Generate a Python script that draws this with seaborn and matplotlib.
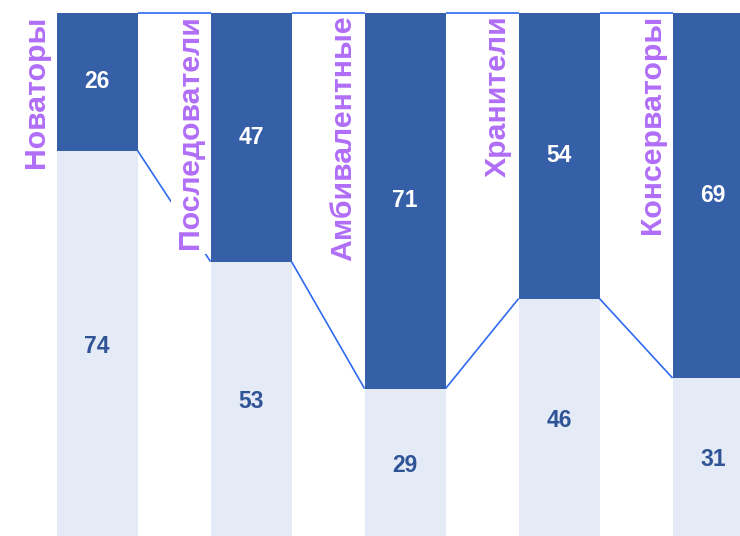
import matplotlib
matplotlib.use("Agg")
import matplotlib.pyplot as plt
import seaborn as sns
import pandas as pd

categories = ["Новаторы", "Последователи", "Амбивалентные", "Хранители", "Консерваторы"]
top_values = [26, 47, 71, 54, 69]      # dark segment (top)
bottom_values = [74, 53, 29, 46, 31]   # light segment (bottom)

DARK = "#3560A8"
LIGHT = "#E4EAF6"
LINE = "#2F6AF0"
PURPLE = "#B06EF6"
NUM_DARK = "#2F5496"

sns.set_theme(style="white")
plt.rcParams['font.family'] = ['Liberation Sans', 'DejaVu Sans']

df = pd.DataFrame({
    "cat": categories,
    "total": [t + b for t, b in zip(top_values, bottom_values)],
    "bottom": bottom_values,
})

fig = plt.figure(figsize=(7.4, 5.36), dpi=100)
ax = fig.add_axes([0, 0, 1, 1])

W = 0.526
sns.barplot(data=df, x="cat", y="total", color=DARK, width=W, ax=ax,
            saturation=1, linewidth=0, zorder=2)
n = len(categories)
sns.barplot(data=df, x="cat", y="bottom", color=LIGHT, width=W, ax=ax,
            saturation=1, linewidth=0, zorder=2)

patches = ax.patches
dark_p = patches[:n]
light_p = patches[n:2 * n]

# connecting lines
for i in range(n - 1):
    x0 = dark_p[i].get_x() + dark_p[i].get_width()
    x1 = dark_p[i + 1].get_x()
    t0 = dark_p[i].get_height()
    t1 = dark_p[i + 1].get_height()
    ax.plot([x0, x1], [t0, t1], color=LINE, lw=1.2, zorder=7,
            solid_capstyle='butt')
    b0 = light_p[i].get_height()
    b1 = light_p[i + 1].get_height()
    ax.plot([x0, x1], [b0, b1], color=LINE, lw=1.2, zorder=3,
            solid_capstyle='butt')

# value labels
for i in range(n):
    cx = dark_p[i].get_x() + dark_p[i].get_width() / 2
    b = bottom_values[i]
    t = top_values[i]
    ax.text(cx, b + t / 2, str(t), color="white", fontsize=16.5,
            fontweight="bold", ha="center", va="center", zorder=5)
    ax.text(cx, b / 2, str(b), color=NUM_DARK, fontsize=16.5,
            fontweight="bold", ha="center", va="center", zorder=5)

# category labels (vertical, left of each bar)
for i, name in enumerate(categories):
    xl = dark_p[i].get_x() - 0.045
    ax.text(xl, 99.6, name, rotation=90, color=PURPLE, fontsize=21.8,
            fontweight="bold", ha="right", va="top", zorder=6,
            bbox=dict(boxstyle="square,pad=0.15", fc="white", ec="none"))

ax.set_xlim(-0.63, 4.175)
ax.set_ylim(1.13, 102.46)
ax.axis("off")

fig.savefig("out.png", dpi=100)
